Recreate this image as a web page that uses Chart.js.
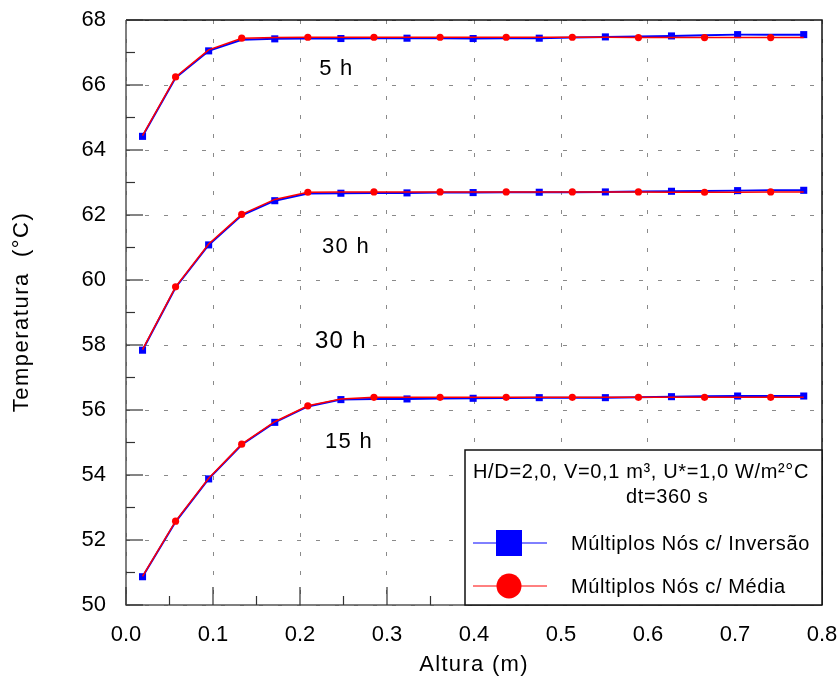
<!DOCTYPE html>
<html>
<head>
<meta charset="utf-8">
<script src="https://cdn.jsdelivr.net/npm/chart.js@4.4.1/dist/chart.umd.min.js"></script>
<style>
  html, body { margin: 0; padding: 0; background: #fff; }
  #chart { display: block; }
</style>
</head>
<body>
<canvas id="chart" width="839" height="679"></canvas>
<script>
const FONT = '"Liberation Sans", Arial, sans-serif';

// node heights (m)
const heights = [0.019, 0.057, 0.095, 0.133, 0.171, 0.209, 0.247, 0.285, 0.323, 0.361, 0.399,
                 0.437, 0.475, 0.513, 0.551, 0.589, 0.627, 0.665, 0.703, 0.741, 0.779];

// Temperatures (C) - Inversao
const inv5h  = [64.42, 66.22, 67.05, 67.39, 67.42, 67.43, 67.43, 67.44, 67.44, 67.44, 67.43,
                67.44, 67.44, 67.46, 67.48, 67.49, 67.51, 67.53, 67.55, 67.55, 67.55];
const inv30h = [57.84, 59.77, 61.08, 61.99, 62.44, 62.66, 62.67, 62.68, 62.68, 62.69, 62.69,
                62.70, 62.70, 62.70, 62.71, 62.72, 62.73, 62.74, 62.75, 62.76, 62.76];
const inv15h = [50.87, 52.56, 53.88, 54.93, 55.62, 56.11, 56.32, 56.34, 56.34, 56.35, 56.36,
                56.37, 56.38, 56.38, 56.38, 56.39, 56.41, 56.42, 56.43, 56.43, 56.43];

// Temperatures (C) - Media
const med5h  = [64.44, 66.25, 67.08, 67.44, 67.46, 67.47, 67.47, 67.47, 67.47, 67.47, 67.47,
                67.47, 67.47, 67.47, 67.47, 67.46, 67.46, 67.46, 67.46, 67.46, 67.46];
const med30h = [57.86, 59.79, 61.11, 62.02, 62.48, 62.70, 62.71, 62.71, 62.71, 62.71, 62.71,
                62.71, 62.71, 62.71, 62.71, 62.71, 62.70, 62.70, 62.70, 62.71, 62.71];
const med15h = [50.88, 52.58, 53.90, 54.95, 55.64, 56.13, 56.34, 56.39, 56.39, 56.39, 56.39,
                56.39, 56.39, 56.39, 56.39, 56.39, 56.39, 56.39, 56.39, 56.39, 56.39];

const xTicks = [0, 0.1, 0.2, 0.3, 0.4, 0.5, 0.6, 0.7, 0.8];
const yTicks = [50, 52, 54, 56, 58, 60, 62, 64, 66, 68];

// curve labels, anchored in data units (left / baseline)
const curveText = ['5 h', '30 h', '30 h', '15 h'];
const curveX    = [0.222, 0.2253, 0.2172, 0.2287];
const curveY    = [66.31, 60.82, 57.90, 54.82];
const curveSize = [22, 22, 24, 22];

const legendTitle = ['H/D=2,0, V=0,1 m³, U*=1,0 W/m²°C', 'dt=360 s'];
const seriesNames = ['Múltiplos Nós c/ Inversão', 'Múltiplos Nós c/ Média'];

function toPoints(values) {
    return heights.map((h, i) => ({ x: h, y: values[i] }));
}

function invSet(values) {
    return {
        label: seriesNames[0],
        data: toPoints(values),
        borderColor: '#0000ff',
        backgroundColor: '#0000ff',
        borderWidth: 2,
        pointStyle: 'rect',
        pointRadius: ctx => ctx.dataIndex % 2 === 0 ? 5 : 0,
        pointBorderWidth: 0,
        showLine: true,
        order: 2
    };
}

function medSet(values) {
    return {
        label: seriesNames[1],
        data: toPoints(values),
        borderColor: '#ff0000',
        backgroundColor: '#ff0000',
        borderWidth: 1.5,
        pointStyle: 'circle',
        pointRadius: ctx => ctx.dataIndex % 2 === 1 ? 3.6 : 0,
        pointBorderWidth: 0,
        showLine: true,
        order: 1
    };
}

function text(ctx, str, x, y, size, spacing, align, baseline) {
    ctx.font = `${size}px ${FONT}`;
    ctx.letterSpacing = spacing + 'px';
    ctx.textAlign = align;
    ctx.textBaseline = baseline;
    ctx.fillStyle = '#000';
    ctx.fillText(str, x, y);
}

function noOverflow(s) {
    s.paddingTop = 0; s.paddingBottom = 0; s.paddingLeft = 0; s.paddingRight = 0;
}

const overlay = {
    id: 'overlay',
    afterDatasetsDraw(chart) {
        const { ctx, chartArea: a, scales } = chart;
        const xs = scales.x, ys = scales.y;
        ctx.save();

        // frame
        ctx.lineWidth = 1.5;
        ctx.strokeStyle = '#111';
        ctx.beginPath();
        ctx.moveTo(a.left, a.top); ctx.lineTo(a.right, a.top); ctx.lineTo(a.right, a.bottom);
        ctx.stroke();
        ctx.strokeStyle = '#555';
        ctx.beginPath();
        ctx.moveTo(a.left, a.top); ctx.lineTo(a.left, a.bottom); ctx.lineTo(a.right, a.bottom);
        ctx.stroke();

        // inward ticks
        ctx.lineWidth = 1.2;
        ctx.strokeStyle = '#333';
        for (let v = 50; v <= 68; v++) {
            const y = ys.getPixelForValue(v);
            const len = v % 2 === 0 ? 17 : 9;
            ctx.beginPath(); ctx.moveTo(a.left, y); ctx.lineTo(a.left + len, y); ctx.stroke();
        }
        for (let k = 0; k <= 16; k++) {
            const x = xs.getPixelForValue(k * 0.05);
            const len = k % 2 === 0 ? 18 : 9;
            ctx.beginPath(); ctx.moveTo(x, a.bottom); ctx.lineTo(x, a.bottom - len); ctx.stroke();
        }

        // curve labels
        curveText.forEach((t, i) => {
            text(ctx, t, xs.getPixelForValue(curveX[i]), ys.getPixelForValue(curveY[i]),
                 curveSize[i], 1.3, 'left', 'alphabetic');
        });

        // legend box
        const bw = 357, bh = 155;
        const bx = a.right - bw, by = a.bottom - bh;
        ctx.fillStyle = '#fff';
        ctx.fillRect(bx, by, bw, bh);
        ctx.lineWidth = 1.5;
        ctx.strokeStyle = '#111';
        ctx.strokeRect(bx, by, bw, bh);

        text(ctx, legendTitle[0], bx + 8, by + 28, 20, 0.65, 'left', 'alphabetic');
        text(ctx, legendTitle[1], bx + 161, by + 52.5, 20, 0.65, 'left', 'alphabetic');

        const mx = bx + 44;
        ctx.lineWidth = 1;
        ctx.strokeStyle = '#0000ff';
        ctx.beginPath(); ctx.moveTo(bx + 8, by + 93); ctx.lineTo(bx + 82, by + 93); ctx.stroke();
        ctx.fillStyle = '#0000ff';
        ctx.fillRect(mx - 13, by + 93 - 13, 26, 26);
        ctx.strokeStyle = '#ff0000';
        ctx.beginPath(); ctx.moveTo(bx + 8, by + 136); ctx.lineTo(bx + 82, by + 136); ctx.stroke();
        ctx.fillStyle = '#ff0000';
        ctx.beginPath(); ctx.arc(mx, by + 136, 12.5, 0, Math.PI * 2); ctx.fill();

        text(ctx, seriesNames[0], bx + 106, by + 100, 20, 0.62, 'left', 'alphabetic');
        text(ctx, seriesNames[1], bx + 106, by + 143, 20, 0.62, 'left', 'alphabetic');

        // axis titles
        text(ctx, 'Altura (m)', 474, 671, 22, 1.3, 'center', 'alphabetic');
        ctx.save();
        ctx.translate(22, 312);
        ctx.rotate(-Math.PI / 2);
        text(ctx, 'Temperatura  (°C)', 0, 0, 22, 1.5, 'center', 'middle');
        ctx.restore();

        ctx.restore();
    }
};

new Chart(document.getElementById('chart'), {
    type: 'scatter',
    data: {
        datasets: [
            invSet(inv5h), medSet(med5h),
            invSet(inv30h), medSet(med30h),
            invSet(inv15h), medSet(med15h)
        ]
    },
    options: {
        responsive: false,
        animation: false,
        devicePixelRatio: 1,
        layout: { padding: { left: 0, top: 20, right: 17, bottom: 0 } },
        plugins: { legend: { display: false }, tooltip: { enabled: false } },
        scales: {
            x: {
                type: 'linear',
                min: 0,
                max: 0.8,
                afterFit: s => { s.height = 74; noOverflow(s); },
                afterBuildTicks: s => { s.ticks = xTicks.map(v => ({ value: v })); },
                ticks: {
                    padding: 17,
                    color: '#000',
                    font: { size: 22, family: FONT },
                    callback: v => v.toFixed(1)
                },
                grid: { color: '#8a8a8a', lineWidth: 1, drawTicks: false },
                border: { display: false, dash: [4, 15] }
            },
            y: {
                min: 50,
                max: 68,
                afterFit: s => { s.width = 126; noOverflow(s); },
                afterBuildTicks: s => { s.ticks = yTicks.map(v => ({ value: v })); },
                ticks: {
                    padding: 20,
                    color: '#000',
                    font: { size: 22, family: FONT }
                },
                grid: { color: '#8a8a8a', lineWidth: 1, drawTicks: false },
                border: { display: false, dash: [4, 15] }
            }
        }
    },
    plugins: [overlay]
});
</script>
</body>
</html>
